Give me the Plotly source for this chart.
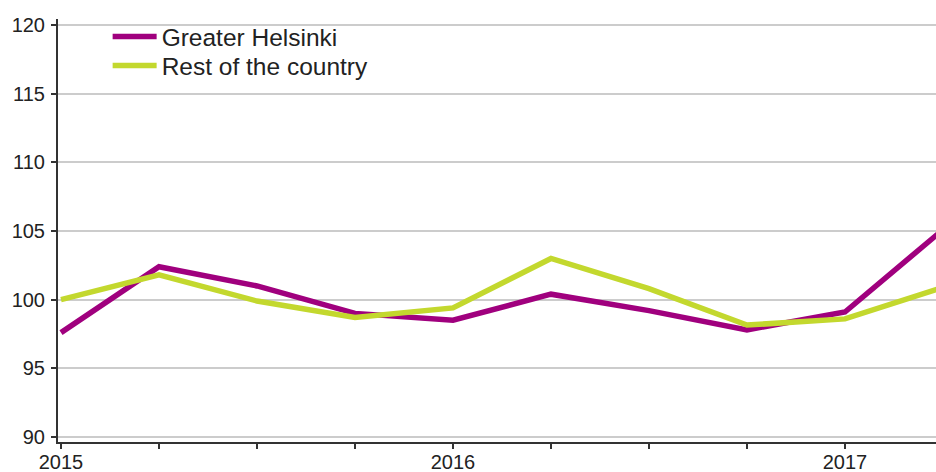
import plotly.graph_objects as go

quarters = ["2015Q1", "2015Q2", "2015Q3", "2015Q4",
            "2016Q1", "2016Q2", "2016Q3", "2016Q4",
            "2017Q1", "2017Q2"]
tick_labels = ["2015", "", "", "", "2016", "", "", "", "2017", ""]

greater_helsinki = [97.6, 102.4, 101.0, 99.0, 98.5, 100.4, 99.2, 97.8, 99.1, 105.1]
rest_of_country = [100.0, 101.8, 99.9, 98.7, 99.4, 103.0, 100.8, 98.15, 98.6, 100.9]

y_ticks = [90, 95, 100, 105, 110, 115, 120]

MAGENTA = "#A0007E"
GREEN = "#C3D82E"
FONT = "Liberation Sans, Arial, sans-serif"
TXT = "#222222"

fig = go.Figure()
fig.add_trace(go.Scatter(x=quarters, y=greater_helsinki, mode="lines",
                         name="Greater Helsinki", legend="legend",
                         line=dict(color=MAGENTA, width=5.5)))
fig.add_trace(go.Scatter(x=quarters, y=rest_of_country, mode="lines",
                         name="Rest of the country", legend="legend2",
                         line=dict(color=GREEN, width=5.5)))

legend_common = dict(x=0.003, xanchor="left", yanchor="top",
                     bgcolor="rgba(255,255,255,0)", borderwidth=0,
                     font=dict(family=FONT, size=24.5, color=TXT),
                     indentation=47, itemwidth=44)

fig.update_layout(
    width=936, height=472,
    margin=dict(l=58, r=0, t=19, b=30, autoexpand=False),
    paper_bgcolor="white", plot_bgcolor="white",
    font=dict(family=FONT, size=20, color=TXT),
    showlegend=True,
    legend=dict(y=1.0118, **legend_common),
    legend2=dict(y=0.9433, **legend_common),
    shapes=[dict(type="rect", layer="between",
                 xref="paper", yref="y",
                 x0=0.004, x1=(367 - 58) / 878, y0=119.3, y1=120.44,
                 fillcolor="white", line=dict(width=0))],
)
fig.update_xaxes(
    type="category", range=[-0.0306, 8.929], automargin=False,
    tickmode="array", tickvals=quarters, ticktext=tick_labels,
    showgrid=False, zeroline=False,
    showline=True, linecolor="#333333", linewidth=2,
    ticks="outside", ticklen=5, tickwidth=2, tickcolor="#333333",
    ticklabelstandoff=-4,
    tickfont=dict(family=FONT, size=20, color=TXT),
)
fig.update_yaxes(
    range=[89.636, 120.437], automargin=False,
    tickmode="array", tickvals=y_ticks,
    showgrid=True, gridcolor="#cccccc", gridwidth=2,
    zeroline=False,
    showline=True, linecolor="#333333", linewidth=2,
    ticks="outside", ticklen=5, tickwidth=2, tickcolor="#333333",
    ticklabelstandoff=2,
    tickfont=dict(family=FONT, size=20, color=TXT),
)

fig.write_html(
    "out.html",
    config={"displayModeBar": False},
    post_script="document.body.style.margin='0';document.body.style.overflow='hidden';",
)
